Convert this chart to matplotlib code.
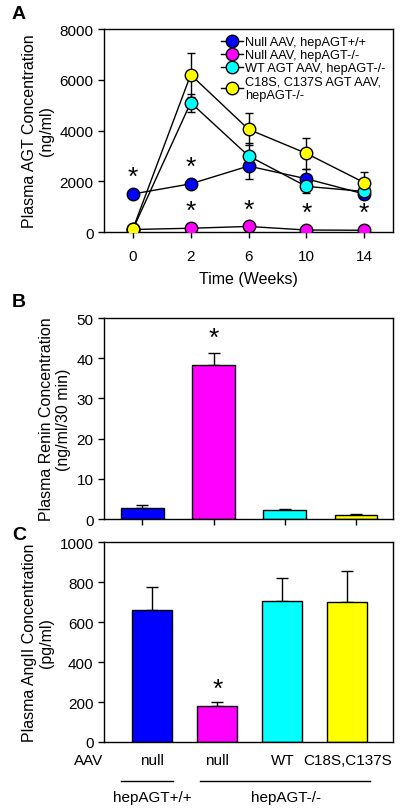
import matplotlib
matplotlib.use("Agg")
import matplotlib.pyplot as plt
import numpy as np

plt.rcParams['font.family'] = ['Liberation Sans', 'DejaVu Sans']

# ---- Panel A data ----
weeks = ["0", "2", "6", "10", "14"]
series_names = ["Null AAV, hepAGT+/+", "Null AAV, hepAGT-/-",
                "WT AGT AAV, hepAGT-/-", "C18S, C137S AGT AAV,\nhepAGT-/-"]
series_colors = ["#0000ff", "#ff00ff", "#00ffff", "#ffff00"]
null_wt = [1500, 1900, 2600, 2100, 1500]
null_wt_err = [120, 150, 500, 400, 200]
null_ko = [100, 150, 220, 80, 70]
null_ko_err = [20, 30, 60, 20, 20]
wt_ko = [110, 5100, 3000, 1800, 1600]
wt_ko_err = [20, 350, 500, 250, 150]
mut_ko = [120, 6200, 4050, 3100, 1950]
mut_ko_err = [20, 870, 630, 600, 420]

# ---- Panel B data ----
renin = [2.7, 38.2, 2.2, 1.1]
renin_err = [0.7, 3.0, 0.2, 0.1]

# ---- Panel C data ----
angii = [660, 178, 705, 703]
angii_err = [118, 20, 115, 152]
aav_labels = ["null", "null", "WT", "C18S,C137S"]

fs = 11
lfs = 11.5
fig = plt.figure(figsize=(4.0, 8.12), dpi=100)

# ---------------- Panel A ----------------
axA = fig.add_axes([0.26, 0.713, 0.7225, 0.25])
x = np.arange(len(weeks))
all_series = [null_wt, null_ko, wt_ko, mut_ko]
all_err = [null_wt_err, null_ko_err, wt_ko_err, mut_ko_err]
order = [0, 1, 2, 3]
for i in order:
    axA.errorbar(x, all_series[i], yerr=all_err[i], color='black', lw=1.0,
                 capsize=3, capthick=1.0, fmt='none', zorder=2)
handles = []
for i in order:
    h, = axA.plot(x, all_series[i], color='black', lw=1.0, marker='o', ms=9,
                  markerfacecolor=series_colors[i], markeredgecolor='black',
                  markeredgewidth=1.0, zorder=3 + i, label=series_names[i])
    handles.append(h)
axA.set_xlim(-0.5, 4.5)
axA.set_ylim(0, 8000)
axA.set_yticks([0, 2000, 4000, 6000, 8000])
axA.set_xticks(x)
axA.set_xticklabels(weeks)
axA.set_xlabel("Time (Weeks)", fontsize=lfs, labelpad=6)
axA.set_ylabel("Plasma AGT Concentration\n(ng/ml)", fontsize=lfs, labelpad=4)
# asterisks
for xi, yi in [(0, null_wt[0]), (1, null_wt[1])]:
    axA.text(xi, yi + 200, "*", ha='center', va='bottom', fontsize=19)
for xi in range(1, 5):
    axA.text(xi, null_ko[xi] + 200, "*", ha='center', va='bottom', fontsize=19)
leg = axA.legend(handles=handles, loc='upper right', fontsize=9.2, frameon=False,
                 handlelength=1.7, handletextpad=0.2, labelspacing=0.08,
                 borderaxespad=0.15, bbox_to_anchor=(1.0, 1.0))
fig.text(0.03, 0.982, "A", fontsize=14, fontweight='bold', va='center')

# ---------------- Panel B ----------------
axB = fig.add_axes([0.26, 0.3596, 0.7225, 0.2475])
xb = np.arange(len(renin))
axB.bar(xb, renin, width=0.6, color=series_colors, edgecolor='black', lw=1.0, zorder=2)
axB.errorbar(xb, renin, yerr=[np.zeros(len(renin)), renin_err], fmt='none',
             ecolor='black', lw=1.0, capsize=4, capthick=1.0, zorder=1)
axB.set_xlim(-0.54, 3.52)
axB.set_ylim(0, 50)
axB.set_yticks([0, 10, 20, 30, 40, 50])
axB.set_xticks(xb)
axB.set_xticklabels([])
axB.set_ylabel("Plasma Renin Concentration\n(ng/ml/30 min)", fontsize=lfs, labelpad=4)
axB.text(1, renin[1] + renin_err[1] + 0.8, "*", ha='center', va='bottom', fontsize=19)
fig.text(0.03, 0.627, "B", fontsize=14, fontweight='bold', va='center')

# ---------------- Panel C ----------------
axC = fig.add_axes([0.26, 0.085, 0.7225, 0.246])
xc = np.arange(len(angii))
axC.bar(xc, angii, width=0.615, color=series_colors, edgecolor='black', lw=1.0, zorder=2)
axC.errorbar(xc, angii, yerr=[np.zeros(len(angii)), angii_err], fmt='none',
             ecolor='black', lw=1.0, capsize=4, capthick=1.0, zorder=1)
axC.set_xlim(-0.74, 3.7)
axC.set_ylim(0, 1000)
axC.set_yticks([0, 200, 400, 600, 800, 1000])
axC.set_xticks([])
axC.set_ylabel("Plasma AngII Concentration\n(pg/ml)", fontsize=lfs, labelpad=4)
axC.text(1, angii[1] + angii_err[1] + 8, "*", ha='center', va='bottom', fontsize=19)
trans = axC.get_xaxis_transform()
for xi, lab in zip(xc, aav_labels):
    axC.text(xi, -0.09, lab, transform=trans, ha='center', va='center', fontsize=fs)
axC.text(-0.98, -0.09, "AAV", transform=trans, ha='center', va='center', fontsize=fs)
axC.plot([-0.48, 0.32], [-0.195, -0.195], transform=trans, color='black', lw=1.0, clip_on=False)
axC.plot([0.74, 3.35], [-0.195, -0.195], transform=trans, color='black', lw=1.0, clip_on=False)
axC.text(0.0, -0.275, "hepAGT+/+", transform=trans, ha='center', va='center', fontsize=fs)
axC.text(2.05, -0.275, "hepAGT-/-", transform=trans, ha='center', va='center', fontsize=fs)
fig.text(0.03, 0.341, "C", fontsize=14, fontweight='bold', va='center')

for ax in (axA, axB, axC):
    for s in ax.spines.values():
        s.set_linewidth(1.0)
    ax.tick_params(axis='both', direction='out', length=4, width=1.0, labelsize=fs,
                   top=False, right=False)
axA.tick_params(axis='x', pad=8)

fig.savefig("out.png", dpi=100)
